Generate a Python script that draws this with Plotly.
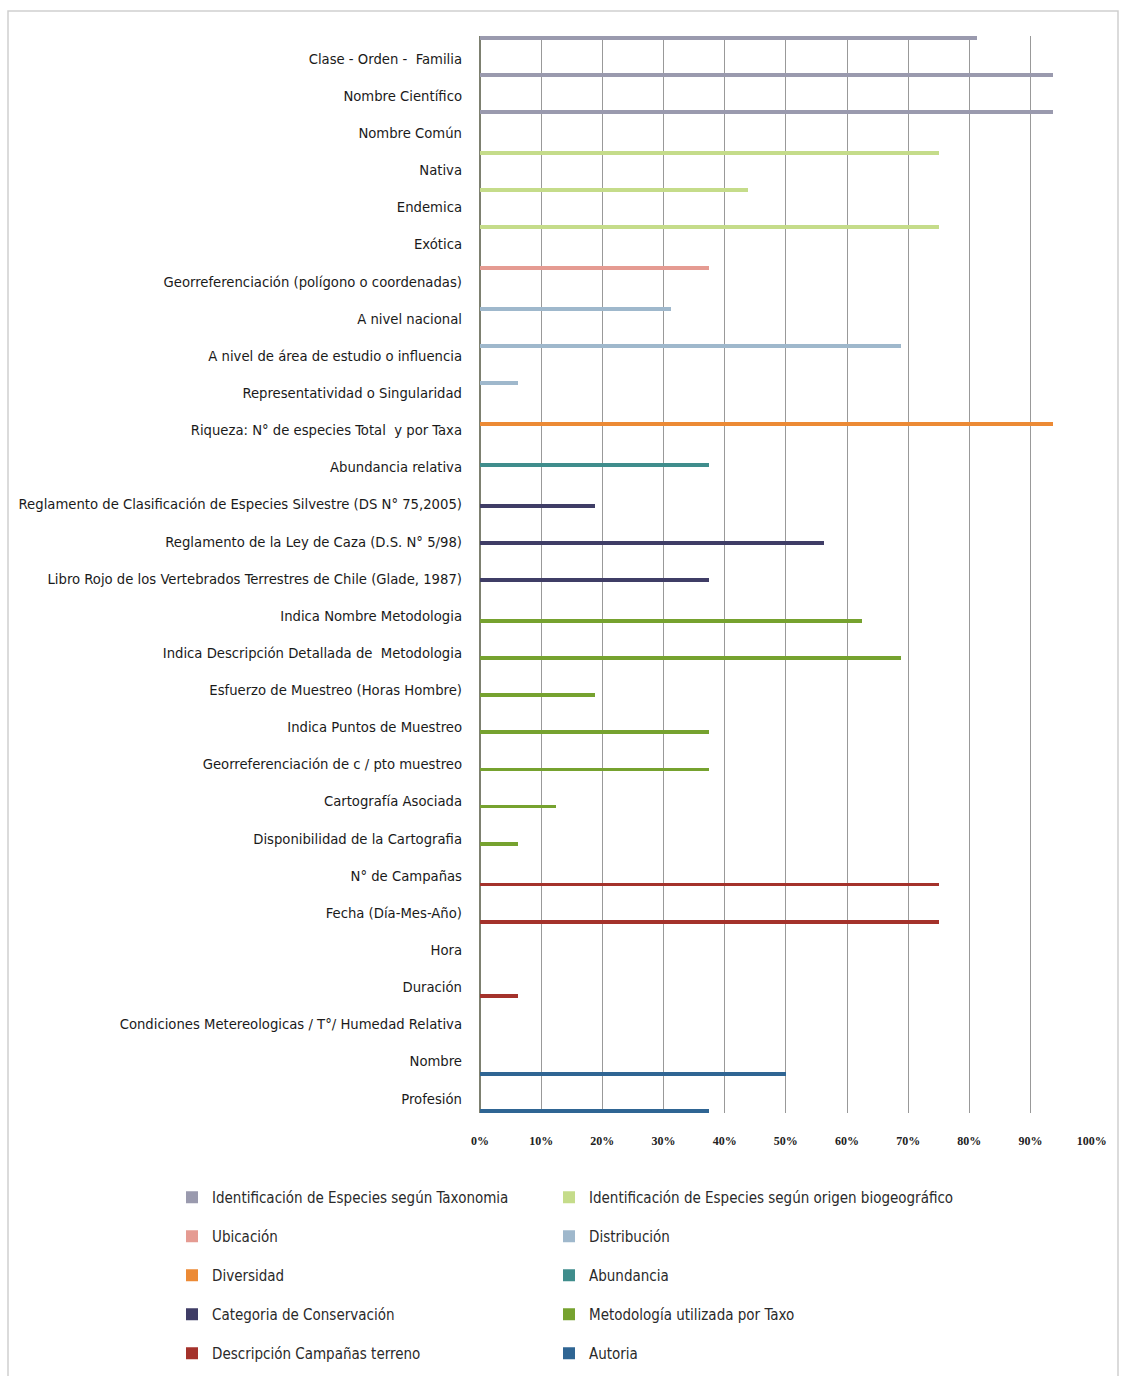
import plotly.graph_objects as go

# Items evaluated, in display order (top to bottom)
categories = [
    "Clase - Orden -  Familia",
    "Nombre Científico",
    "Nombre Común",
    "Nativa",
    "Endemica",
    "Exótica",
    "Georreferenciación (polígono o coordenadas)",
    "A nivel nacional",
    "A nivel de área de estudio o influencia",
    "Representatividad o Singularidad",
    "Riqueza: N° de especies Total  y por Taxa",
    "Abundancia relativa",
    "Reglamento de Clasificación de Especies Silvestre (DS N° 75,2005)",
    "Reglamento de la Ley de Caza (D.S. N° 5/98)",
    "Libro Rojo de los Vertebrados Terrestres de Chile (Glade, 1987)",
    "Indica Nombre Metodologia",
    "Indica Descripción Detallada de  Metodologia",
    "Esfuerzo de Muestreo (Horas Hombre)",
    "Indica Puntos de Muestreo",
    "Georreferenciación de c / pto muestreo",
    "Cartografía Asociada",
    "Disponibilidad de la Cartografia",
    "N° de Campañas",
    "Fecha (Día-Mes-Año)",
    "Hora",
    "Duración",
    "Condiciones Metereologicas / T°/ Humedad Relativa",
    "Nombre",
    "Profesión",
]

# Series: items covered and share of studies fulfilling each item
taxonomia_items = categories[0:3]
taxonomia_vals = [0.8125, 0.9375, 0.9375]

biogeo_items = categories[3:6]
biogeo_vals = [0.75, 0.4375, 0.75]

ubicacion_items = categories[6:7]
ubicacion_vals = [0.375]

distribucion_items = categories[7:10]
distribucion_vals = [0.3125, 0.6875, 0.0625]

diversidad_items = categories[10:11]
diversidad_vals = [0.9375]

abundancia_items = categories[11:12]
abundancia_vals = [0.375]

conservacion_items = categories[12:15]
conservacion_vals = [0.1875, 0.5625, 0.375]

metodologia_items = categories[15:22]
metodologia_vals = [0.625, 0.6875, 0.1875, 0.375, 0.375, 0.125, 0.0625]

campanas_items = categories[22:27]
campanas_vals = [0.75, 0.75, 0.0, 0.0625, 0.0]

autoria_items = categories[27:29]
autoria_vals = [0.5, 0.375]

x_ticks = [0, 0.1, 0.2, 0.3, 0.4, 0.5, 0.6, 0.7, 0.8, 0.9, 1.0]

series = [
    ("Identificación de Especies según Taxonomia", taxonomia_items, taxonomia_vals, "#9a9aae", "legend"),
    ("Identificación de Especies según origen biogeográfico", biogeo_items, biogeo_vals, "#c5dc8a", "legend2"),
    ("Ubicación", ubicacion_items, ubicacion_vals, "#e59b92", "legend"),
    ("Distribución", distribucion_items, distribucion_vals, "#9fb8cc", "legend2"),
    ("Diversidad", diversidad_items, diversidad_vals, "#ec8a35", "legend"),
    ("Abundancia", abundancia_items, abundancia_vals, "#3f8d8c", "legend2"),
    ("Categoria de Conservación", conservacion_items, conservacion_vals, "#3f3d66", "legend"),
    ("Metodología utilizada por Taxo", metodologia_items, metodologia_vals, "#76a22f", "legend2"),
    ("Descripción Campañas terreno", campanas_items, campanas_vals, "#a4322b", "legend"),
    ("Autoria", autoria_items, autoria_vals, "#2f6593", "legend2"),
]

LABEL_FONT = "DejaVu Sans Condensed, DejaVu Sans, sans-serif"

fig = go.Figure()
for i, (name, items, vals, color, leg) in enumerate(series):
    fig.add_trace(go.Bar(
        x=vals,
        y=items,
        orientation="h",
        name=name,
        marker=dict(color=color, line=dict(width=0)),
        legend=leg,
        legendgroup=f"g{i}",
        offsetgroup=str(i),
        alignmentgroup="all",
    ))

W, H = 1121, 1376
ML, MR, MT, MB = 480, 29, 36, 263
plot_w = W - ML - MR
plot_h = H - MT - MB

legend_common = dict(
    orientation="v",
    xref="container",
    yref="container",
    yanchor="top",
    xanchor="left",
    y=1 - 1181 / H,
    tracegroupgap=16.5,
    traceorder="grouped",
    bgcolor="rgba(0,0,0,0)",
    font=dict(family=LABEL_FONT, size=15, color="#2a2a2a"),
)

fig.update_layout(
    template="none",
    width=W,
    height=H,
    margin=dict(l=ML, r=MR, t=MT, b=MB, autoexpand=False),
    paper_bgcolor="white",
    plot_bgcolor="white",
    barmode="group",
    bargap=0.0,
    bargroupgap=0.0,
    showlegend=True,
    legend=dict(x=172 / W, **legend_common),
    legend2=dict(x=549 / W, **legend_common),
    xaxis=dict(
        automargin=False,
        range=[0, 1.0005],
        tickvals=x_ticks,
        tickformat=".0%",
        tickangle=0,
        showgrid=True,
        gridcolor="#999999",
        gridwidth=1,
        zeroline=True,
        zerolinecolor="#7d8070",
        zerolinewidth=2,
        showline=False,
        ticks="",
        ticklabelstandoff=19,
        tickfont=dict(family="Liberation Serif, DejaVu Serif, serif", size=12,
                      color="#222222", weight="bold"),
    ),
    yaxis=dict(
        automargin=False,
        type="category",
        categoryorder="array",
        categoryarray=categories,
        autorange="reversed",
        showgrid=False,
        zeroline=False,
        showline=False,
        ticks="",
        ticklabelstandoff=17,
        ticklabelshift=-4,
        tickfont=dict(family=LABEL_FONT, size=14.7, color="#1a1a1a"),
    ),
    shapes=[
        # light frame around the chart
        dict(
            type="rect",
            xref="paper", yref="paper",
            x0=(8 - ML) / plot_w, x1=(1118 - ML) / plot_w,
            y0=(H - MB - 1390) / plot_h, y1=(H - MB - 11) / plot_h,
            line=dict(color="#cfcfcf", width=1.5),
            fillcolor="rgba(0,0,0,0)",
            layer="below",
        )
    ],
)

fig.write_html("out.html")
